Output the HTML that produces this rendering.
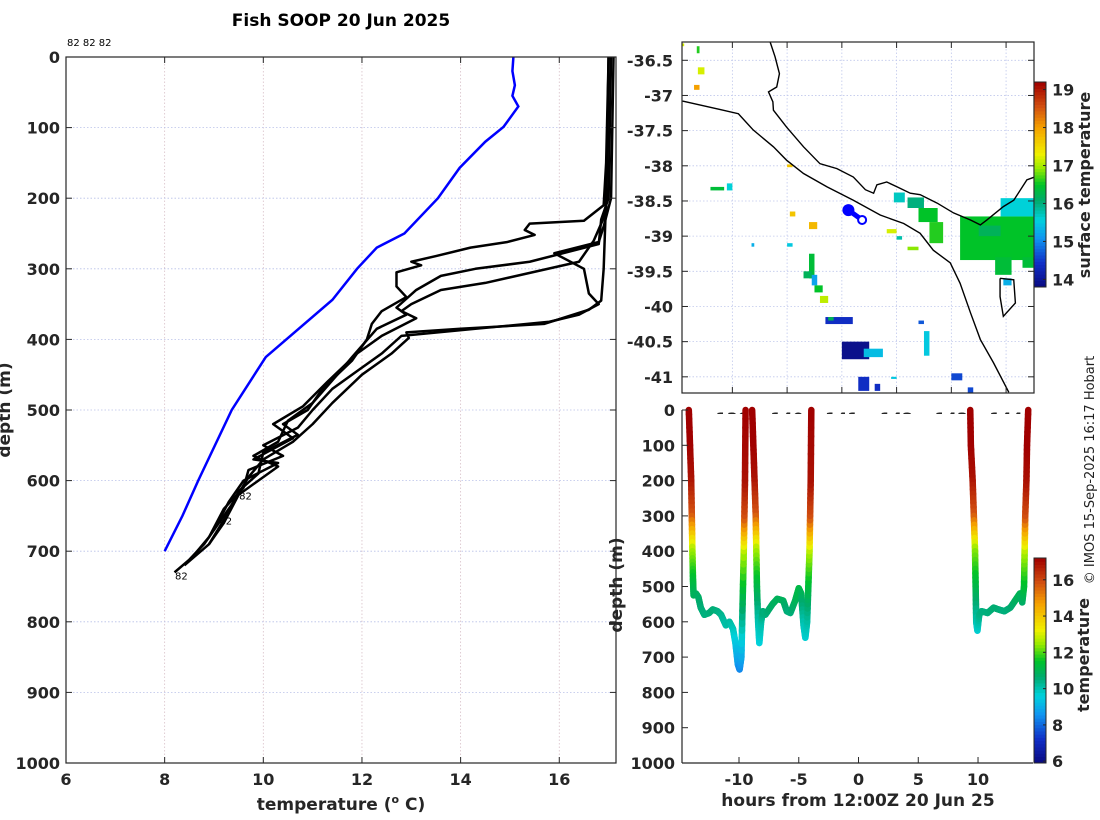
<!DOCTYPE html>
<html><head><meta charset="utf-8">
<style>
html,body{margin:0;padding:0;background:#fff;}
svg{display:block;font-family:"DejaVu Sans","Liberation Sans",sans-serif;}
.tk{font-weight:bold;font-size:16px;fill:#262626;}
</style></head>
<body>
<svg id="fig" width="1100" height="820" viewBox="0 0 1100 820" xmlns="http://www.w3.org/2000/svg">
<rect width="1100" height="820" fill="#fff"/>
<text x="341" y="26" text-anchor="middle" font-weight="bold" font-size="17" fill="#000">Fish SOOP 20 Jun 2025</text>
<text x="67" y="46" font-size="10" fill="#000">82 82 82</text>
<g id="left"></g>
<g id="map"></g>
<g id="sect"></g>
<text transform="translate(1094,470) rotate(-90)" text-anchor="middle" font-size="13" fill="#222">© IMOS 15-Sep-2025 16:17 Hobart</text>
</svg>
<script>
// ---------- Left profile plot data ----------
const tempTicks = [6, 8, 10, 12, 14, 16];
const depthTicks = [0, 100, 200, 300, 400, 500, 600, 700, 800, 900, 1000];
const climTemp = [15.07,15.05,15.1,15.05,15.17,14.87,14.5,13.98,13.54,12.86,12.3,11.9,11.4,10.05,9.36,8.68,8.36,8.0];
const climDepth = [0,20,40,55,70,99,120,157,200,250,270,300,344,425,500,600,650,700];
const prof1 = [[17.0,0],[16.98,100],[16.95,200],[16.9,300],[16.85,345],[16.6,358],[15.7,378],[14.0,385],[12.9,390],[12.95,398],[12.6,420],[12.0,450],[11.4,490],[11.0,520],[10.6,545],[10.0,570],[9.7,595],[9.4,630],[9.1,660],[8.8,690],[8.5,712],[8.2,730]];
const prof2 = [[17.0,0],[16.95,150],[16.9,210],[16.5,232],[15.4,236],[15.3,245],[15.5,252],[14.95,262],[14.2,270],[13.5,282],[13.0,290],[13.2,295],[12.7,305],[12.7,325],[12.9,340],[12.4,360],[12.2,378],[12.1,400],[11.8,430],[11.2,470],[10.9,500],[10.4,520],[10.7,535],[10.0,560],[9.9,590],[9.5,615],[9.25,650],[8.9,690],[8.4,720]];
const prof3 = [[17.05,0],[17.0,200],[16.85,230],[16.8,265],[15.4,290],[14.3,300],[13.6,310],[13.1,330],[12.7,355],[12.9,365],[12.3,385],[11.8,425],[11.5,450],[11.0,490],[10.5,515],[10.3,545],[9.8,565],[10.3,580],[9.9,600],[9.5,620],[9.2,660],[8.9,690]];
const prof4 = [[17.0,0],[16.95,220],[16.7,260],[16.4,290],[14.5,320],[13.6,330],[13.0,350],[12.8,360],[13.1,370],[12.4,395],[11.9,420],[11.3,460],[10.8,495],[10.2,520],[10.6,540],[9.8,570],[10.3,575],[9.6,600],[9.3,630],[9.0,670]];
const prof5 = [[17.1,0],[17.05,200],[16.9,240],[16.8,262],[15.9,278],[16.5,300],[16.6,335],[16.8,350],[16.4,365],[15.8,375],[14.3,385],[12.8,395],[12.4,420],[11.9,445],[11.4,470],[11.0,500],[10.7,525],[10.0,550],[10.4,565],[9.7,585],[9.6,610],[9.2,640],[8.9,680],[8.6,705]];
const profiles = [prof1, prof2, prof3, prof4, prof5];
const endLabels = [[9.45,620,'82'],[9.05,655,'82'],[8.15,733,'82']];

// ---------- Map data ----------
const lonTicks = [139,140,141,142,143,144];
const latTicks = [-36.5,-37,-37.5,-38,-38.5,-39,-39.5,-40,-40.5,-41];
const sstTicks = [14,15,16,17,18,19];
const coastOuterLon = [138.09,138.78,139.11,139.38,139.75,139.99,140.30,140.73,141.21,141.70,142.13,142.43,142.67,142.98,143.16,143.35,143.53,143.77,144.05];
const coastOuterLat = [-37.08,-37.20,-37.26,-37.49,-37.73,-37.92,-38.11,-38.30,-38.49,-38.70,-38.82,-38.96,-39.20,-39.38,-39.67,-40.09,-40.47,-40.80,-41.22];
const coastInnerLon = [139.69,139.78,139.86,139.81,139.66,139.74,139.75,139.99,140.30,140.60,140.91,141.21,141.43,141.58,141.64,141.82,142.01,142.25,142.43,142.74,143.04,143.35,143.53,143.65,143.95,144.14,144.38,144.52];
const coastInnerLat = [-36.24,-36.45,-36.69,-36.88,-36.95,-37.09,-37.21,-37.45,-37.73,-37.97,-38.04,-38.16,-38.34,-38.39,-38.27,-38.23,-38.30,-38.39,-38.41,-38.53,-38.67,-38.77,-38.84,-38.77,-38.58,-38.49,-38.20,-38.16];
const islandLon = [143.89,144.14,144.17,143.95,143.89,143.89];
const islandLat = [-39.60,-39.62,-39.95,-40.14,-39.86,-39.60];
const shipLon = [141.12,141.37];
const shipLat = [-38.63,-38.77];
// sst blocks: lon0, lat0, lon1, lat1, temperature
const sstBlocks = [
 [143.16,-38.72,144.5,-39.34,16.5],[143.9,-38.46,144.5,-38.72,15.6],[143.5,-38.85,143.9,-39.0,16.2],
 [142.2,-38.45,142.5,-38.6,16.0],[142.4,-38.6,142.75,-38.8,16.5],[142.6,-38.8,142.85,-39.1,16.6],
 [141.95,-38.38,142.15,-38.52,15.7],[143.8,-39.3,144.1,-39.55,16.4],[144.3,-39.3,144.5,-39.45,16.4],
 [143.95,-39.6,144.1,-39.7,15.3],[141.82,-38.9,142.0,-38.96,17.2],[142.2,-39.15,142.4,-39.2,16.9],
 [142.0,-39.0,142.1,-39.05,15.8],[138.37,-36.6,138.49,-36.7,17.2],[138.3,-36.85,138.4,-36.92,18.0],
 [138.35,-36.3,138.4,-36.4,16.6],[138.08,-36.26,138.12,-36.3,17.2],[138.6,-38.3,138.85,-38.35,16.4],
 [138.9,-38.25,139.0,-38.35,15.6],[140.4,-38.8,140.55,-38.9,17.8],[140.05,-38.65,140.15,-38.72,17.7],
 [140.0,-37.98,140.1,-38.02,17.7],[140.4,-39.25,140.5,-39.6,16.4],[140.3,-39.5,140.45,-39.6,16.2],
 [140.45,-39.55,140.55,-39.7,15.2],[140.5,-39.7,140.65,-39.8,16.5],[140.6,-39.85,140.75,-39.95,17.1],
 [140.7,-40.15,141.2,-40.25,14.4],[140.75,-40.15,140.85,-40.2,16.2],[141.0,-40.5,141.5,-40.75,13.9],
 [141.4,-40.6,141.75,-40.72,15.4],[142.5,-40.35,142.6,-40.7,15.5],[142.4,-40.2,142.5,-40.25,14.7],
 [141.3,-41.0,141.5,-41.2,14.4],[141.6,-41.1,141.7,-41.2,14.4],[143.0,-40.95,143.2,-41.05,14.6],[143.3,-41.15,143.4,-41.23,14.6],
 [140.0,-39.1,140.1,-39.15,15.5],[139.35,-39.1,139.4,-39.15,15.3],[141.9,-41.0,142.0,-41.03,15.5]
];

// ---------- Depth-time section data ----------
const hourTicks = [-10,-5,0,5,10];
const secTempTicks = [6,8,10,12,14,16];
const seg1Hour = [-14.2,-14.1,-14.0,-13.95,-13.9,-13.85,-13.8,-13.6,-13.4,-13.2,-12.9,-12.5,-12.2,-11.8,-11.5,-11.1,-10.8,-10.5,-10.3,-10.1,-9.95,-9.8,-9.7,-9.6,-9.55,-9.5,-9.45];
const seg1Depth = [0,100,200,300,400,480,525,520,530,560,580,575,565,570,580,610,600,620,660,720,735,700,550,400,300,200,0];
const seg1Temp = [17.2,17.2,16.9,15.8,12.6,11.4,10.9,10.9,10.8,10.6,10.5,10.5,10.6,10.5,10.4,10.1,10.2,10.0,9.5,8.8,8.4,8.9,10.8,12.6,15.8,16.9,17.2];
const seg2Hour = [-8.9,-8.8,-8.7,-8.6,-8.55,-8.5,-8.4,-8.3,-8.15,-8.0,-7.8,-7.6,-7.2,-6.8,-6.3,-6.0,-5.7,-5.3,-5.0,-4.8,-4.6,-4.45,-4.3,-4.2,-4.1,-4.05,-4.0,-3.95];
const seg2Depth = [0,100,200,300,400,500,600,660,600,570,580,570,550,535,540,570,575,540,505,520,610,645,600,500,400,300,200,0];
const seg2Temp = [17.2,17.2,16.9,15.8,12.6,11.2,10.1,9.6,10.1,10.6,10.5,10.6,10.8,10.9,10.9,10.6,10.5,10.9,11.2,11.0,10.0,9.7,10.1,11.2,12.6,15.8,16.9,17.2];
const seg3Hour = [9.35,9.4,9.55,9.65,9.75,9.8,9.85,9.95,10.1,10.3,10.8,11.3,11.7,12.2,12.7,13.1,13.5,13.7,13.85,13.9,13.95,14.05,14.1,14.2];
const seg3Depth = [0,100,200,300,400,500,600,625,580,570,575,560,565,570,560,540,520,545,500,400,300,200,100,0];
const seg3Temp = [17.2,17.2,16.9,15.8,12.4,11.2,10.1,9.7,10.4,10.5,10.5,10.6,10.6,10.5,10.6,10.8,11.0,10.7,11.3,12.6,15.8,16.9,17.2,17.2];

const NS = 'http://www.w3.org/2000/svg';
function mk(tag, attrs, parent){ const e=document.createElementNS(NS,tag); for(const k in attrs) e.setAttribute(k,attrs[k]); parent.appendChild(e); return e; }
const CM=[[0,10,10,128],[0.12,16,48,200],[0.24,16,150,240],[0.33,0,210,220],[0.42,0,170,110],[0.5,0,195,40],[0.58,150,235,0],[0.65,240,240,0],[0.78,245,160,0],[0.88,210,80,16],[1,160,0,0]];
function jet(t){ t=Math.max(0,Math.min(1,t)); let i=0; while(i<CM.length-2&&t>CM[i+1][0]) i++;
  const a=CM[i],b=CM[i+1],f=(t-a[0])/(b[0]-a[0]);
  return 'rgb('+[1,2,3].map(k=>Math.round(a[k]+(b[k]-a[k])*f)).join(',')+')'; }
function grid(g,x1,y1,x2,y2,c){ const l=mk('line',{x1,y1,x2,y2,stroke:c,'stroke-width':0.8,'stroke-dasharray':'1.5,2'},g);   }

// ===== Left plot =====
(function(){
  const g=document.getElementById('left');
  const L=66,R=616,T=57,B=763, t0=6,t1=17.15;
  const X=t=>L+(t-t0)/(t1-t0)*(R-L), Y=d=>T+d/1000*(B-T);
  tempTicks.forEach(t=>{ if(t>t0) grid(g,X(t),T,X(t),B,'#d8c0c8'); });
  depthTicks.forEach(d=>{ if(d>0&&d<1000) grid(g,L,Y(d),R,Y(d),'#b8c0e8'); });
  const pts=climTemp.map((t,i)=>X(t)+','+Y(climDepth[i])).join(' ');
  const cl=mk('polyline',{points:pts,fill:'none',stroke:'#0000ff','stroke-width':2.5},g);
   
  profiles.forEach((p,i)=>{
    const pl=mk('polyline',{points:p.map(q=>X(q[0])+','+Y(q[1])).join(' '),fill:'none',stroke:'#000','stroke-width':2.5,'stroke-linejoin':'round'},g);
     
  });
  endLabels.forEach(e=>{ const t=mk('text',{x:X(e[0])+3,y:Y(e[1])+5,'font-size':10,fill:'#000'},g); t.textContent=e[2];
      });
  const fr=mk('rect',{x:L,y:T,width:R-L,height:B-T,fill:'none',stroke:'#262626','stroke-width':1.2},g);
   
  tempTicks.forEach(t=>{ mk('line',{x1:X(t),y1:B,x2:X(t),y2:B-6,stroke:'#262626'},g); mk('line',{x1:X(t),y1:T,x2:X(t),y2:T+6,stroke:'#262626'},g);
    const tx=mk('text',{x:X(t),y:B+22,'text-anchor':'middle',class:'tk'},g); tx.textContent=t;
      });
  depthTicks.forEach(d=>{ mk('line',{x1:L,y1:Y(d),x2:L+6,y2:Y(d),stroke:'#262626'},g); mk('line',{x1:R,y1:Y(d),x2:R-6,y2:Y(d),stroke:'#262626'},g);
    const tx=mk('text',{x:L-6,y:Y(d)+6,'text-anchor':'end',class:'tk'},g); tx.textContent=d;
      });
  const xl=mk('text',{x:341,y:810,'text-anchor':'middle','font-weight':'bold','font-size':17,fill:'#262626'},g);
  xl.innerHTML='temperature (<tspan dy="-7" font-size="11">o</tspan><tspan dy="7"> C)</tspan>';
   
  const yl=mk('text',{transform:'translate(10,410) rotate(-90)','text-anchor':'middle','font-weight':'bold','font-size':17,fill:'#262626'},g);
  yl.textContent='depth (m)';  
})();

// ===== Map =====
(function(){
  const g=document.getElementById('map');
  const L=682,R=1034,T=42,B=393, lo0=138.08,lo1=144.51, la0=-36.24,la1=-41.23;
  const X=v=>L+(v-lo0)/(lo1-lo0)*(R-L), Y=v=>T+(v-la0)/(la1-la0)*(B-T);
  const s0=13.8,s1=19.2;
  lonTicks.forEach(v=>grid(g,X(v),T,X(v),B,'#c0c8ec'));
  latTicks.forEach(v=>grid(g,L,Y(v),R,Y(v),'#c0c8ec'));
  sstBlocks.forEach(b=>{ const r=mk('rect',{x:X(b[0]),y:Y(b[1]),width:X(b[2])-X(b[0]),height:Y(b[3])-Y(b[1]),fill:jet((b[4]-s0)/(s1-s0))},g);
      });
  [[coastOuterLon,coastOuterLat,'coastline-shelf'],[coastInnerLon,coastInnerLat,'coastline'],[islandLon,islandLat,'island']].forEach(c=>{
    const p=mk('polyline',{points:c[0].map((v,i)=>X(v)+','+Y(c[1][i])).join(' '),fill:'none',stroke:'#000','stroke-width':1.4},g);
      });
  const tl=mk('line',{x1:X(shipLon[0]),y1:Y(shipLat[0]),x2:X(shipLon[1]),y2:Y(shipLat[1]),stroke:'#0000ff','stroke-width':5},g);
   
  const c1=mk('circle',{cx:X(shipLon[0]),cy:Y(shipLat[0]),r:6,fill:'#0000ff'},g);
   
  const c2=mk('circle',{cx:X(shipLon[1]),cy:Y(shipLat[1]),r:4,fill:'#fff',stroke:'#0000ff','stroke-width':2},g);
   
  const fr=mk('rect',{x:L,y:T,width:R-L,height:B-T,fill:'none',stroke:'#262626','stroke-width':1.2},g);
   
  lonTicks.forEach(v=>{ mk('line',{x1:X(v),y1:T,x2:X(v),y2:T+6,stroke:'#262626'},g); mk('line',{x1:X(v),y1:B,x2:X(v),y2:B-6,stroke:'#262626'},g);
    const tx=mk('text',{x:X(v),y:424,'text-anchor':'middle',class:'tk'},g); tx.textContent=v;
      });
  latTicks.forEach(v=>{ mk('line',{x1:L,y1:Y(v),x2:L+6,y2:Y(v),stroke:'#262626'},g); mk('line',{x1:R,y1:Y(v),x2:R-6,y2:Y(v),stroke:'#262626'},g);
    const tx=mk('text',{x:L-9,y:Y(v)+6,'text-anchor':'end',class:'tk'},g); tx.textContent=v;
      });
  const cT=82,cB=287,cX=1034,cW=12, CY=v=>cB-(v-s0)/(s1-s0)*(cB-cT);
  for(let i=0;i<64;i++){ const v0=s0+(s1-s0)*i/64, v1=s0+(s1-s0)*(i+1)/64;
    const r=mk('rect',{x:cX,y:CY(v1),width:cW,height:CY(v0)-CY(v1)+0.5,fill:jet((i+0.5)/64)},g);
      }
  mk('rect',{x:cX,y:cT,width:cW,height:cB-cT,fill:'none',stroke:'#262626'},g);
  sstTicks.forEach(v=>{ mk('line',{x1:cX+cW,y1:CY(v),x2:cX+cW-3,y2:CY(v),stroke:'#262626'},g);
    const tx=mk('text',{x:1052,y:CY(v)+6,class:'tk','font-size':15},g); tx.textContent=v;
      });
  const ct=mk('text',{transform:'translate(1090,185) rotate(-90)','text-anchor':'middle','font-weight':'bold','font-size':16,fill:'#262626'},g);
  ct.textContent='surface temperature';  
})();

// ===== Depth-time section =====
(function(){
  const g=document.getElementById('sect');
  const L=682,R=1033,T=410,B=763,h0=-14.77,h1=14.6;
  const bg=mk('rect',{x:L-2,y:T+4,width:R-L+4,height:16,fill:'#fff'},g);
   
  const X=h=>L+(h-h0)/(h1-h0)*(R-L), Y=d=>T+d/1000*(B-T);
  const s0=5.9,s1=17.2;
  [[seg1Hour,seg1Depth,seg1Temp],[seg2Hour,seg2Depth,seg2Temp],[seg3Hour,seg3Depth,seg3Temp]].forEach((s,si)=>{
    const grp=mk('g',{},g);  
    for(let i=0;i<s[0].length-1;i++){ const n=8;
      for(let k=0;k<n;k++){ const a=k/n,b=(k+1)/n;
        const ha=s[0][i]+(s[0][i+1]-s[0][i])*a, hb=s[0][i]+(s[0][i+1]-s[0][i])*b;
        const da=s[1][i]+(s[1][i+1]-s[1][i])*a, db=s[1][i]+(s[1][i+1]-s[1][i])*b;
        const tm=s[2][i]+(s[2][i+1]-s[2][i])*(a+b)/2;
        const l=mk('line',{x1:X(ha),y1:Y(da),x2:X(hb),y2:Y(db),stroke:jet((tm-s0)/(s1-s0)),'stroke-width':6.5,'stroke-linecap':'round'},grp);
          } }
  });
  mk('line',{x1:L,y1:T,x2:L,y2:B,stroke:'#262626','stroke-width':1.2},g);
  mk('line',{x1:L,y1:B,x2:R,y2:B,stroke:'#262626','stroke-width':1.2},g);
  hourTicks.forEach(h=>{ mk('line',{x1:X(h),y1:B,x2:X(h),y2:B-6,stroke:'#262626'},g);
    const tx=mk('text',{x:X(h),y:B+22,'text-anchor':'middle',class:'tk'},g); tx.textContent=h;
      });
  depthTicks.forEach(d=>{ mk('line',{x1:L,y1:Y(d),x2:L+6,y2:Y(d),stroke:'#262626'},g);
    const tx=mk('text',{x:L-7,y:Y(d)+6,'text-anchor':'end',class:'tk'},g); tx.textContent=d;
      });
  const xl=mk('text',{x:858,y:806,'text-anchor':'middle','font-weight':'bold','font-size':17,fill:'#262626'},g);
  xl.textContent='hours from 12:00Z 20 Jun 25';  
  const yl=mk('text',{transform:'translate(622,585) rotate(-90)','text-anchor':'middle','font-weight':'bold','font-size':17,fill:'#262626'},g);
  yl.textContent='depth (m)';  
  const cT=558,cB=763,cX=1034,cW=12, CY=v=>cB-(v-s0)/(s1-s0)*(cB-cT);
  for(let i=0;i<64;i++){ const v0=s0+(s1-s0)*i/64, v1=s0+(s1-s0)*(i+1)/64;
    const r=mk('rect',{x:cX,y:CY(v1),width:cW,height:CY(v0)-CY(v1)+0.5,fill:jet((i+0.5)/64)},g);
      }
  mk('rect',{x:cX,y:cT,width:cW,height:cB-cT,fill:'none',stroke:'#262626'},g);
  secTempTicks.forEach(v=>{ mk('line',{x1:cX+cW,y1:CY(v),x2:cX+cW-3,y2:CY(v),stroke:'#262626'},g);
    const tx=mk('text',{x:1052,y:CY(v)+6,class:'tk','font-size':15},g); tx.textContent=v;
      });
  const ct=mk('text',{transform:'translate(1089,655) rotate(-90)','text-anchor':'middle','font-weight':'bold','font-size':16,fill:'#262626'},g);
  ct.textContent='temperature';  
})();
</script>
</body></html>
